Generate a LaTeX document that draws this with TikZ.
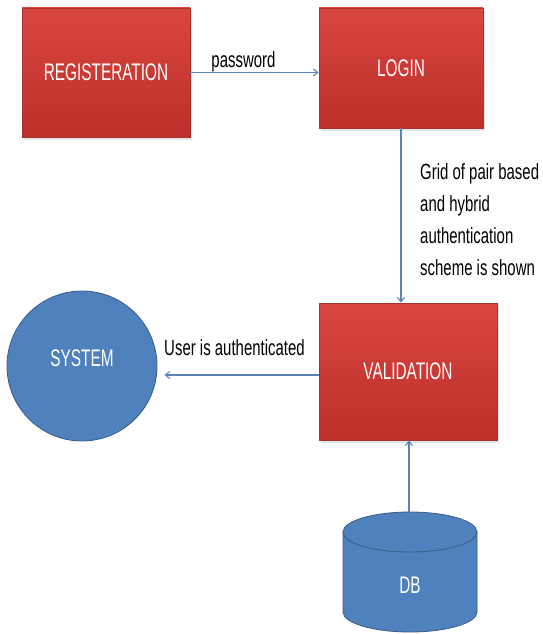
\documentclass[tikz,border=0pt]{standalone}
\usepackage{fontspec}
\setmainfont{Liberation Sans}
\newfontfamily\boxfont{Liberation Sans}[FakeStretch=0.64]
\newfontfamily\labfont{Liberation Sans}[FakeStretch=0.68]
\usetikzlibrary{arrows.meta,shadows}
\definecolor{boxtop}{HTML}{D9463F}
\definecolor{boxbot}{HTML}{BC2F2A}
\definecolor{boxline}{HTML}{A8322E}
\definecolor{bluefill}{HTML}{4F81BD}
\definecolor{blueline}{HTML}{385D8A}
\definecolor{conn}{HTML}{5A83B8}
\tikzset{
  redbox/.style={rectangle, draw=boxline, line width=0.6pt, top color=boxtop, bottom color=boxbot,
    text=white, font=\boxfont\fontsize{24}{28}\selectfont, inner sep=0pt,
    drop shadow={opacity=0.22, shadow xshift=1.5pt, shadow yshift=-2.5pt}},
  bluetext/.style={text=white, font=\boxfont\fontsize{24}{28}\selectfont, inner sep=0pt},
  lbl/.style={text=black, font=\labfont\fontsize{22}{32}\selectfont, inner sep=0pt},
  conn/.style={draw=conn, line width=1.1pt, -{Straight Barb[length=4.5pt,width=7pt]}}
}
\begin{document}
\begin{tikzpicture}[x=1pt,y=-1pt]
\useasboundingbox (0,0) rectangle (542,634);
% boxes
\node[redbox, minimum width=168pt, minimum height=129pt] (reg) at (106,72.5) {REGISTERATION};
\node[redbox, minimum width=164pt, minimum height=120pt] (login) at (401,68) {LOGIN};
\node[redbox, minimum width=178pt, minimum height=137pt] (val) at (408,371.5) {VALIDATION};
% system circle
\node[circle, draw=blueline, line width=0.8pt, fill=bluefill, minimum size=150pt, inner sep=0pt] (sys) at (82,366) {};
\node[bluetext] (systext) at (82,358) {SYSTEM};
% database cylinder
\fill[bluefill] (343,532) -- (343,612) .. controls (343,623.05) and (373,632) .. (410,632)
  .. controls (447,632) and (477,623.05) .. (477,612) -- (477,532) -- cycle;
\draw[blueline, line width=0.8pt] (343,532) -- (343,612) .. controls (343,623.05) and (373,632) .. (410,632)
  .. controls (447,632) and (477,623.05) .. (477,612) -- (477,532);
\draw[blueline, line width=0.8pt, fill=bluefill] (410,532) ellipse [x radius=67pt, y radius=20pt];
\coordinate (dbtop) at (409,512);
\node[bluetext] (db) at (410,585) {DB};
% connectors
\draw[conn] (reg.east) -- (reg.east -| login.west);
\draw[conn] (login.south) -- (login.south |- val.north);
\draw[conn, shorten >=7pt] ([yshift=-3.5pt]val.west) -- ([yshift=-3.5pt]val.west -| sys.east);
\draw[conn] (dbtop) -- (dbtop |- val.south);
% labels
\node[lbl, anchor=base] (pw) at (243.5,67) {password};
\node[lbl, anchor=base] (auth) at (234.5,355) {User is authenticated};
\node[lbl, anchor=north west, align=left] (grid) at (420,163) {Grid of pair based\\and hybrid\\authentication\\scheme is shown};
\end{tikzpicture}
\end{document}
